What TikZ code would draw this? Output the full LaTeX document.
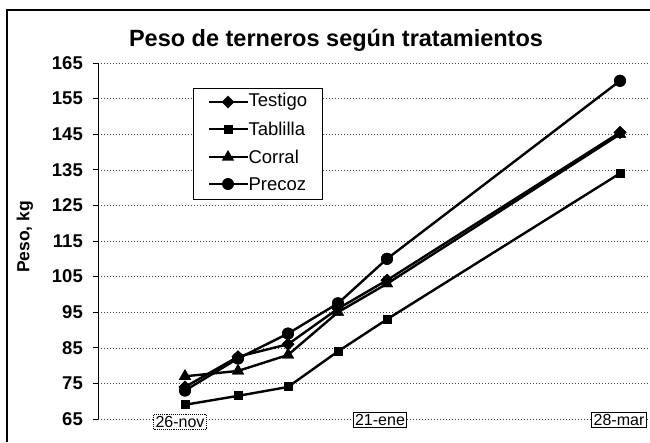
\documentclass[tikz,border=0pt]{standalone}
\usepackage{fontspec}
\setmainfont{Liberation Sans}
\usetikzlibrary{shapes.geometric}
\newcommand\py[1]{419-(#1-65)*3.56}
\tikzset{
  grid line/.style={black!75, line width=0.6pt, dash pattern=on 1.2pt off 1.8pt},
  series/.style={black, line width=2.4pt, line join=round},
  mkdiam/.style={shape=diamond, fill=black, inner sep=0pt, minimum size=13pt},
  mksq/.style={shape=rectangle, fill=black, inner sep=0pt, minimum size=9pt},
  mktri/.style={shape=regular polygon, regular polygon sides=3, fill=black, inner sep=0pt, minimum size=14pt},
  mkcirc/.style={shape=circle, fill=black, inner sep=0pt, minimum size=12pt},
  ylab/.style={anchor=east, font=\fontsize{18.5}{18.5}\selectfont\bfseries, inner sep=0pt},
  datebox/.style={draw=black, line width=0.9pt, fill=white, font=\fontsize{16}{16}\selectfont, inner sep=2pt},
  legtext/.style={anchor=west, font=\fontsize{18.5}{18.5}\selectfont, inner sep=0.3pt}
}
\begin{document}
\begin{tikzpicture}[x=1pt,y=-1pt]
\useasboundingbox (0,0) rectangle (650,442);
\fill[white] (0,0) rectangle (650,442);
% outer frame
\coordinate (fa) at (7,442);
\coordinate (fb) at (7,10);
\coordinate (fc) at (650,10);
\draw[black, line width=1.2pt] (fa) -- (fb) -- (fc);
% title
\node[font=\fontsize{23.5}{23.5}\selectfont\bfseries] (title) at (336,40) {Peso de terneros según tratamientos};
% grid lines and y labels
\foreach \v in {65,75,...,165} {
  \coordinate (gl\v) at (98,{\py{\v}});
  \coordinate (gr\v) at (650,{\py{\v}});
  \coordinate (tk\v) at (93,{\py{\v}});
  \draw[grid line] (gl\v) -- (gr\v);
  \draw[black, line width=0.8pt] (tk\v) -- (gl\v);
  \node[ylab] (yl\v) at (83,{\py{\v}}) {\v};
}
% y axis
\draw[black, line width=1pt] (gl65) -- (gl165);
% y axis title
\node[rotate=90, font=\fontsize{17.5}{17.5}\selectfont\bfseries] (ytitle) at (25,237) {Peso, kg};
% data points
% Testigo
\node[mkdiam] (t1) at (185,{\py{74}}) {};
\node[mkdiam] (t2) at (238,{\py{82.5}}) {};
\node[mkdiam] (t3) at (288,{\py{86}}) {};
\node[mkdiam] (t4) at (338,{\py{96}}) {};
\node[mkdiam] (t5) at (387,{\py{104}}) {};
\node[mkdiam] (t6) at (620,{\py{145.5}}) {};
% Tablilla
\node[mksq] (b1) at (185,{\py{69}}) {};
\node[mksq] (b2) at (238,{\py{71.5}}) {};
\node[mksq] (b3) at (288,{\py{74}}) {};
\node[mksq] (b4) at (338,{\py{84}}) {};
\node[mksq] (b5) at (387,{\py{93}}) {};
\node[mksq] (b6) at (620,{\py{134}}) {};
% Corral
\node[mktri] (c1) at (185,{\py{77}}) {};
\node[mktri] (c2) at (238,{\py{78.5}}) {};
\node[mktri] (c3) at (288,{\py{83}}) {};
\node[mktri] (c4) at (338,{\py{95}}) {};
\node[mktri] (c5) at (387,{\py{103}}) {};
\node[mktri] (c6) at (620,{\py{145}}) {};
% Precoz
\node[mkcirc] (p1) at (185,{\py{73}}) {};
\node[mkcirc] (p2) at (238,{\py{82}}) {};
\node[mkcirc] (p3) at (288,{\py{89}}) {};
\node[mkcirc] (p4) at (338,{\py{97.5}}) {};
\node[mkcirc] (p5) at (387,{\py{110}}) {};
\node[mkcirc] (p6) at (620,{\py{160}}) {};
% series lines
\draw[series] (t1.center) -- (t2.center) -- (t3.center) -- (t4.center) -- (t5.center) -- (t6.center);
\draw[series] (b1.center) -- (b2.center) -- (b3.center) -- (b4.center) -- (b5.center) -- (b6.center);
\draw[series] (c1.center) -- (c2.center) -- (c3.center) -- (c4.center) -- (c5.center) -- (c6.center);
\draw[series] (p1.center) -- (p2.center) -- (p3.center) -- (p4.center) -- (p5.center) -- (p6.center);
% redraw markers on top
\foreach \n in {1,...,6} {
  \node[mkdiam] at (t\n) {};
  \node[mksq] at (b\n) {};
  \node[mktri] at (c\n) {};
  \node[mkcirc] at (p\n) {};
}
% date labels
\node[datebox, densely dotted] (d1) at (180,422) {26-nov};
\node[datebox] (d2) at (380,420) {21-ene};
\node[datebox] (d3) at (619,420) {28-mar};
% legend
\node[draw=black, line width=0.9pt, fill=white, minimum width=129pt, minimum height=111pt, inner sep=0pt] (legend) at (257.5,143.5) {};
\foreach \y/\nm/\st/\tx in {102/lt/mkdiam/Testigo, 129/lb/mksq/Tablilla, 157/lc/mktri/Corral, 184/lp/mkcirc/Precoz} {
  \coordinate (\nm a) at (209,\y);
  \coordinate (\nm b) at (248,\y);
  \draw[series] (\nm a) -- (\nm b);
  \node[\st] (\nm m) at (228,\y) {};
  \node[legtext] (\nm t) at (248,\y) {\tx};
}
\end{tikzpicture}
\end{document}
